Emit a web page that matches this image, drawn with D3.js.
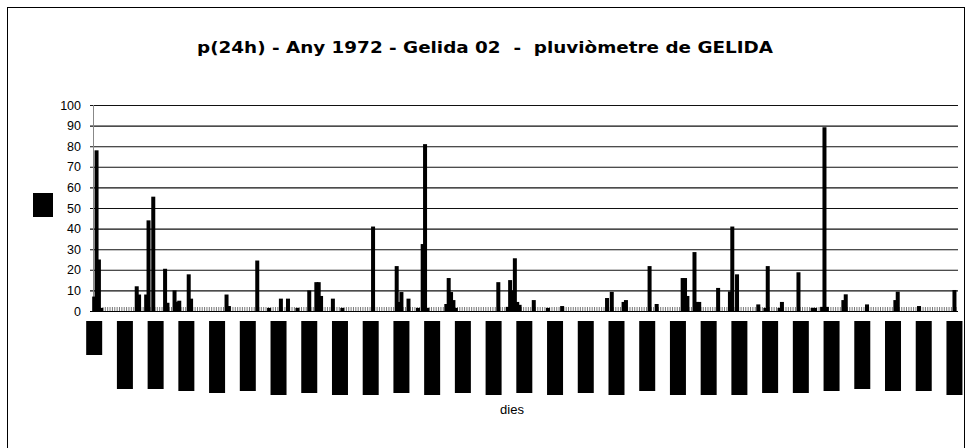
<!DOCTYPE html>
<html>
<head>
<meta charset="utf-8">
<script src="https://cdn.jsdelivr.net/npm/d3@7"></script>
<style>
  body { margin: 0; background: #fff; }
  svg { display: block; }
</style>
</head>
<body>
<svg id="chart" width="968" height="448"></svg>
<script>
var width = 968;
var height = 448;

// daily rainfall 1972 (366 days) - only days with rain are listed, the rest is 0
const wetDays = [0, 1, 2, 3, 18, 19, 22, 23, 25, 30, 31, 34, 35, 36, 40, 41, 56, 57, 69, 74,
  79, 82, 86, 91, 94, 95, 96, 101, 105, 118, 128, 129, 130, 133, 137, 139, 140, 141,
  149, 150, 151, 152, 153, 171, 175, 176, 177, 178, 179, 180, 186, 192, 198,
  217, 219, 224, 225, 235, 238, 249, 250, 251, 254, 255, 256, 264, 269, 270, 272,
  281, 284, 285, 290, 291, 298, 304, 305, 308, 309, 310, 317, 318, 327, 339, 340, 349, 364];
const wetMm = [7, 78, 25, 1.5, 12, 8, 8, 44, 55.5, 20.5, 4, 10, 4.5, 5, 17.8, 6, 8, 2.4, 24.5, 1.5,
  6, 6, 1.5, 10, 14, 14, 7.3, 6, 1.5, 41, 21.8, 4.4, 9.2, 6, 1.5, 32.5, 81, 1.5,
  3.4, 16, 9.2, 5.3, 1.5, 14, 2, 15, 10, 25.6, 4.4, 3, 5.3, 1.5, 2.4,
  6.3, 9.3, 4.4, 5.3, 21.8, 3.4, 16, 16, 7.3, 28.6, 4.4, 4.4, 11.2, 9.5, 41, 17.8,
  3.2, 1.5, 21.8, 1.5, 4.4, 18.8, 1.5, 1.5, 2, 89.2, 2, 5.3, 8.1, 3.2, 5.3, 9.4, 2.4, 10.2];

// x tick labels every 13 days (they print as solid blocks in the original)
const tickDays = d3.range(0, 366, 13);
const tickLabels = ["01/01/1972", "14/01/1972", "27/01/1972", "09/02/1972", "22/02/1972",
  "06/03/1972", "19/03/1972", "01/04/1972", "14/04/1972", "27/04/1972", "10/05/1972",
  "23/05/1972", "05/06/1972", "18/06/1972", "01/07/1972", "14/07/1972", "27/07/1972",
  "09/08/1972", "22/08/1972", "04/09/1972", "17/09/1972", "30/09/1972", "13/10/1972",
  "26/10/1972", "08/11/1972", "21/11/1972", "04/12/1972", "17/12/1972", "30/12/1972"];
const tickBlock = [34, 68, 68, 70, 72, 70, 74, 72, 74, 74, 72, 74, 72, 74, 72, 74, 72, 74,
  70, 74, 74, 74, 72, 72, 70, 68, 70, 70, 74];

const yTicks = d3.range(0, 101, 10);

let days = d3.range(366);
let rain = days.map(function (d) {
  let k = wetDays.indexOf(d);
  return k < 0 ? 0 : wetMm[k];
});

let svg = d3.select("#chart");
svg.append("rect").attr("width", width).attr("height", height).attr("fill", "#fff");

// outer frame
svg.append("rect")
  .attr("x", 7.5).attr("y", 7.5)
  .attr("width", 957).attr("height", 460)
  .attr("fill", "none").attr("stroke", "#000").attr("stroke-width", 1);

svg.append("text")
  .attr("x", 485).attr("y", 53)
  .attr("text-anchor", "middle")
  .attr("font-family", "'DejaVu Sans', sans-serif")
  .attr("font-weight", "bold")
  .attr("font-size", 16.5)
  .attr("textLength", 576)
  .attr("lengthAdjust", "spacingAndGlyphs")
  .style("white-space", "pre")
  .text("p(24h) - Any 1972 - Gelida 02  -  pluviòmetre de GELIDA");

let x = d3.scaleBand().domain(days).range([93, 958]).padding(0);
let y = d3.scaleLinear().domain([0, 100]).range([311, 105]);

// gridlines + y axis
let yAxis = d3.axisLeft(y).tickValues(yTicks).tickSize(-(958 - 90)).tickPadding(9).tickFormat(d3.format("d"));
let gy = svg.append("g").attr("transform", "translate(90,0)").call(yAxis);
gy.select(".domain").remove();
gy.selectAll(".tick line").attr("stroke", "#111").attr("stroke-width", 1.1);
gy.selectAll(".tick text")
  .attr("font-family", "'Liberation Sans', Arial, sans-serif")
  .attr("font-size", 12.5).attr("fill", "#000");

svg.append("line")
  .attr("x1", 93.5).attr("x2", 93.5).attr("y1", 105).attr("y2", 311)
  .attr("stroke", "#888");

// small category ticks along the baseline
svg.append("g").selectAll("line")
  .data(days)
  .enter()
  .append("line")
  .attr("x1", function (d) { return x(d) + 0.5; })
  .attr("x2", function (d) { return x(d) + 0.5; })
  .attr("y1", 311).attr("y2", 307)
  .attr("stroke", "#555").attr("stroke-width", 0.8);

// bars
let bw = 4;
svg.append("g").selectAll("rect")
  .data(days.filter(function (d) { return rain[d] > 0; }))
  .enter()
  .append("rect")
  .attr("x", function (d) { return x(d) + x.bandwidth() / 2 - bw / 2; })
  .attr("width", bw)
  .attr("y", function (d) { return y(rain[d]); })
  .attr("height", function (d) { return y(0) - y(rain[d]); })
  .attr("fill", "#000");

svg.append("line")
  .attr("x1", 90).attr("x2", 958).attr("y1", 311.5).attr("y2", 311.5)
  .attr("stroke", "#000");

// x tick labels (rendered as solid blocks like the original)
let xl = svg.append("g").selectAll("g")
  .data(tickDays)
  .enter()
  .append("g")
  .attr("transform", function (d) { return "translate(" + (x(d) + x.bandwidth() / 2) + ",321)"; });
xl.append("rect")
  .attr("x", -8).attr("y", 0).attr("width", 16)
  .attr("height", function (d, i) { return tickBlock[i]; })
  .attr("fill", "#000");
xl.append("text")
  .attr("transform", "rotate(-90)")
  .attr("x", -3).attr("y", 4)
  .attr("text-anchor", "end")
  .attr("font-family", "'Liberation Sans', Arial, sans-serif")
  .attr("font-size", 10)
  .attr("textLength", function (d, i) { return tickBlock[i] - 6; })
  .attr("lengthAdjust", "spacingAndGlyphs")
  .attr("fill", "#000")
  .text(function (d, i) { return tickLabels[i]; });

svg.append("text")
  .attr("x", 512).attr("y", 414)
  .attr("text-anchor", "middle")
  .attr("font-family", "'Liberation Sans', Arial, sans-serif")
  .attr("font-size", 13)
  .text("dies");

// legend
let lg = svg.append("g").attr("transform", "translate(33,193)");
lg.append("rect").attr("width", 20).attr("height", 24).attr("fill", "#000");
lg.append("text").attr("x", 10).attr("y", 15).attr("text-anchor", "middle")
  .attr("font-family", "'Liberation Sans', Arial, sans-serif")
  .attr("font-size", 7).attr("textLength", 14).attr("lengthAdjust", "spacingAndGlyphs")
  .attr("fill", "#000").text("p(24h)");
</script>
</body>
</html>
